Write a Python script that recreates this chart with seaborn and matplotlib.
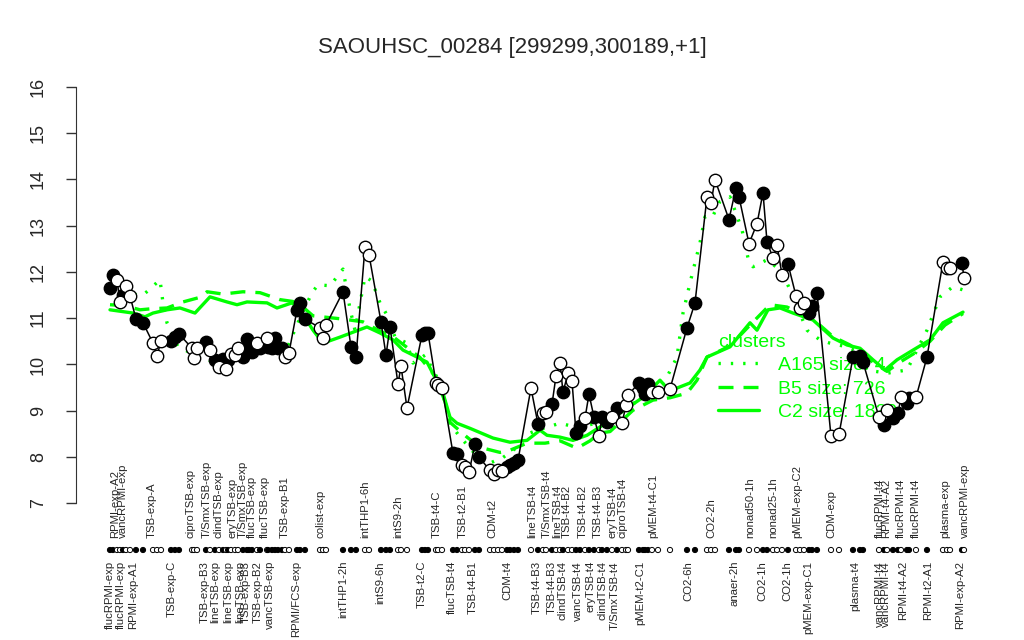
import numpy as np
import pandas as pd
import matplotlib
matplotlib.use("Agg")
import matplotlib.pyplot as plt
import matplotlib.transforms as mtransforms
from matplotlib.lines import Line2D
import seaborn as sns

# sample positions along the x axis and expression values
pos = [10, 13, 17, 20, 23, 26, 30, 36, 43, 53, 57, 61, 71, 75, 79, 92, 94, 97,
       106, 110, 115, 119, 123, 126, 128, 131, 135, 138, 143, 147, 149, 152,
       157, 160, 167, 168, 172, 175, 178, 182, 185, 189, 197, 200, 205, 220,
       223, 226, 243, 251, 256, 265, 269, 281, 286, 290, 298, 301, 307, 322,
       325, 328, 336, 338, 342, 353, 357, 362, 365, 369, 375, 379, 390, 394,
       398, 402, 407, 410, 414, 418, 431, 438, 443, 446, 452, 456, 460, 463,
       468, 472, 476, 480, 485, 489, 494, 499, 502, 507, 512, 517, 522, 526,
       528, 539, 543, 545, 548, 552, 558, 570, 587, 595, 607, 611, 615, 629,
       636, 639, 649, 657, 663, 667, 673, 677, 682, 688, 696, 700, 704, 709,
       712, 717, 731, 739, 753, 760, 763, 779, 784, 787, 793, 798, 801, 807,
       809, 816, 827, 843, 847, 850, 862, 864]
expr = [11.65, 11.94, 11.83, 11.35, 11.50, 11.70, 11.48, 10.98, 10.90, 10.46,
        10.18, 10.51, 10.51, 10.59, 10.66, 10.35, 10.14, 10.35, 10.48, 10.31,
        10.10, 9.94, 10.12, 9.90, 10.10, 10.22, 10.20, 10.35, 10.16, 10.55,
        10.35, 10.27, 10.46, 10.35, 10.57, 10.38, 10.35, 10.57, 10.35, 10.35,
        10.16, 10.25, 11.18, 11.33, 10.98, 10.79, 10.57, 10.85, 11.57, 10.38,
        10.16, 12.54, 12.37, 10.92, 10.20, 10.81, 9.58, 9.96, 9.06, 10.64,
        10.68, 10.68, 9.60, 9.55, 9.49, 8.08, 8.06, 7.82, 7.78, 7.67, 8.28,
        8.00, 7.71, 7.63, 7.71, 7.69, 7.78, 7.82, 7.87, 7.93, 9.49, 8.71, 8.95,
        8.97, 9.14, 9.75, 10.03, 9.40, 9.81, 9.64, 8.52, 8.67, 8.84, 9.36,
        8.86, 8.45, 8.86, 8.75, 8.86, 9.06, 8.73, 9.12, 9.34, 9.60, 9.49, 9.36,
        9.58, 9.40, 9.40, 9.47, 10.79, 11.33, 13.62, 13.49, 13.99, 13.13, 13.82,
        13.62, 12.61, 13.04, 13.71, 12.65, 12.30, 12.58, 11.94, 12.17, 11.48,
        11.22, 11.33, 11.11, 11.26, 11.55, 8.45, 8.49, 10.16, 10.18, 10.05,
        8.86, 8.69, 9.01, 8.84, 8.95, 9.29, 9.16, 9.27, 9.29, 10.16, 12.22,
        12.09, 12.09, 12.19, 11.87]
filled = [1, 1, 0, 0, 1, 0, 0, 1, 1, 0, 0, 0, 1, 1, 1, 0, 0, 0, 1, 0, 1, 0, 1,
          0, 1, 0, 0, 0, 1, 1, 1, 1, 0, 1, 0, 1, 1, 1, 1, 1, 0, 0, 1, 1, 1, 0,
          0, 0, 1, 1, 1, 0, 0, 1, 1, 1, 0, 0, 0, 1, 1, 1, 0, 0, 0, 1, 1, 0, 0,
          0, 1, 1, 0, 0, 0, 0, 1, 1, 1, 1, 0, 1, 0, 0, 1, 0, 0, 1, 0, 0, 1, 1,
          0, 1, 1, 0, 1, 1, 0, 1, 0, 0, 0, 1, 1, 1, 1, 0, 0, 0, 1, 1, 0, 0, 0,
          1, 1, 1, 0, 0, 1, 1, 0, 0, 0, 1, 0, 0, 0, 1, 1, 1, 0, 0, 1, 1, 1, 0,
          1, 0, 1, 1, 0, 1, 1, 0, 1, 0, 0, 0, 1, 0]

# cluster mean profiles
a165_pos = [10, 25, 42, 50, 60, 63, 67, 78, 100, 115, 130, 150, 170, 185, 200,
            212, 218, 230, 237, 243, 250, 255, 265, 272, 280, 288, 295, 307,
            313, 325, 340, 350, 360, 370, 380, 390, 403, 417, 430, 440, 460,
            475, 490, 513, 533, 553, 567, 577, 583, 590, 600, 605, 612, 620,
            630, 642, 648, 653, 667, 680, 687, 707, 720, 730, 747, 760, 767,
            787, 807, 827, 840, 853, 863]
a165 = [11.55, 11.55, 11.48, 11.63, 11.83, 11.33, 10.90, 10.38, 10.16, 10.05,
        10.10, 10.25, 10.30, 10.25, 11.00, 11.55, 11.72, 11.70, 11.89, 12.06,
        11.20, 10.74, 11.90, 11.80, 11.33, 11.03, 10.59, 10.46, 10.03, 10.20,
        9.60, 8.73, 8.43, 8.20, 7.93, 7.87, 7.99, 8.21, 8.52, 8.60, 8.73, 8.65,
        8.70, 8.80, 9.16, 9.29, 9.73, 10.16, 11.11, 11.76, 12.63, 13.19, 13.17,
        13.52, 13.62, 12.91, 12.30, 12.11, 12.26, 12.04, 11.76, 10.74, 10.53,
        10.46, 10.38, 10.25, 9.88, 9.81, 9.88, 10.74, 11.46, 11.68, 11.61]
b5_pos = [10, 25, 40, 50, 67, 83, 100, 107, 123, 143, 160, 180, 193, 205, 213,
          243, 263, 280, 293, 305, 320, 335, 345, 350, 367, 380, 400, 407, 427,
          445, 460, 477, 490, 500, 510, 533, 553, 570, 587, 597, 607, 630, 650,
          670, 687, 700, 713, 733, 750, 773, 787, 800, 815, 830, 845, 863]
b5 = [11.29, 11.27, 11.18, 11.20, 11.22, 11.35, 11.45, 11.57, 11.52, 11.57,
      11.55, 11.40, 11.36, 11.20, 11.05, 10.98, 10.92, 10.72, 10.60, 10.40,
      10.15, 9.75, 9.20, 8.75, 8.43, 8.21, 8.10, 8.12, 8.30, 8.30, 8.35, 8.19,
      8.35, 8.52, 8.55, 9.01, 9.23, 9.28, 9.38, 9.66, 10.16, 10.40, 10.85,
      11.29, 11.24, 11.10, 10.98, 10.60, 10.42, 10.05, 9.85, 10.05, 10.25,
      10.50, 10.85, 11.10]
c2_pos = [10, 33, 45, 53, 67, 80, 95, 110, 127, 137, 147, 167, 177, 192, 200,
          213, 223, 240, 267, 280, 293, 303, 317, 327, 343, 350, 357, 370, 393,
          410, 427, 440, 447, 460, 473, 487, 500, 520, 543, 560, 567, 577, 590,
          600, 607, 630, 650, 657, 668, 680, 693, 713, 733, 747, 760, 773, 785,
          797, 813, 830, 843, 863]
c2 = [11.18, 11.11, 11.03, 11.11, 11.18, 11.22, 11.11, 11.46, 11.35, 11.29,
      11.35, 11.33, 11.22, 11.33, 11.18, 10.74, 10.46, 10.59, 10.81, 10.68,
      10.53, 10.31, 10.16, 10.05, 9.38, 8.86, 8.73, 8.62, 8.41, 8.32, 8.36,
      8.58, 8.47, 8.43, 8.36, 8.47, 8.65, 8.95, 9.29, 9.66, 9.49, 9.49, 9.60,
      9.88, 10.16, 10.38, 10.90, 10.74, 11.18, 11.22, 11.11, 10.96, 10.57,
      10.42, 10.35, 10.10, 9.88, 10.10, 10.31, 10.53, 10.90, 11.13]

top_pos = [15, 23, 52, 90, 107, 118, 132, 143, 152, 165, 185, 220, 265, 298,
           337, 363, 392, 432, 447, 457, 467, 483, 498, 512, 522, 553, 611,
           650, 673, 697, 731, 780, 786, 801, 816, 845, 865]
top_labels = ["RPMI-exp-A2", "vancRPMI-exp", "TSB-exp-A", "ciproTSB-exp",
              "T/SmxTSB-exp", "clindTSB-exp", "eryTSB-exp", "T/SmxTSB-exp",
              "flucTSB-exp", "flucTSB-exp", "TSB-exp-B1", "colist-exp",
              "intTHP1-6h", "intS9-2h", "TSB-t4-C", "TSB-t2-B1", "CDM-t2",
              "lineTSB-t4", "T/SmxTSB-t4", "lineTSB-t4", "TSB-t4-B2",
              "TSB-t4-B2", "TSB-t4-B3", "eryTSB-t4", "ciproTSB-t4",
              "pMEM-t4-C1", "CO2-2h", "nonad50-1h", "nonad25-1h",
              "pMEM-exp-C2", "CDM-exp", "flucRPMI-t4", "RPMI-t4-A2",
              "flucRPMI-t4", "flucRPMI-t4", "plasma-exp", "vancRPMI-exp"]
bottom_pos = [10, 21, 33, 72, 105, 115, 128, 140, 146, 158, 170, 196, 243,
              280, 322, 352, 373, 407, 437, 452, 463, 478, 490, 503, 515,
              540, 588, 635, 662, 687, 708, 755, 780, 786, 803, 828, 860]
bottom_labels = ["flucRPMI-exp", "flucRPMI-exp", "RPMI-exp-A1", "TSB-exp-C",
                 "TSB-exp-B3", "lineTSB-exp", "lineTSB-exp", "lineTSB-exp",
                 "TSB-exp-B3", "TSB-exp-B2", "vancTSB-exp", "RPMI/FCS-exp",
                 "intTHP1-2h", "intS9-6h", "TSB-t2-C", "flucTSB-t4",
                 "TSB-t4-B1", "CDM-t4", "TSB-t4-B3", "TSB-t4-B3",
                 "clindTSB-t4", "vancTSB-t4", "eryTSB-t4", "clindTSB-t4",
                 "T/SmxTSB-t4", "pMEM-t2-C1", "CO2-6h", "anaer-2h", "CO2-1h",
                 "CO2-1h", "pMEM-exp-C1", "plasma-t4", "vancRPMI-t4",
                 "vancRPMI-t4", "RPMI-t4-A2", "RPMI-t2-A1", "RPMI-exp-A2"]

legend_labels = ["A165 size: 4", "B5 size: 726", "C2 size: 1839"]

sns.set_style("white")
plt.rcParams['font.family'] = ['Liberation Sans', 'DejaVu Sans']

df = pd.DataFrame({"pos": pos, "expr": expr, "filled": filled})

fig = plt.figure(figsize=(10.24, 6.4), dpi=100)
ax = fig.add_axes([76 / 1024, 1 - 520 / 640, 923 / 1024, 450 / 640])

green = "#00ff00"
dot_ls = (0, (0.7, 3.0))
dash_ls = (0, (4.5, 3))
sns.lineplot(x=a165_pos, y=a165, color=green, lw=2.4, linestyle=dot_ls,
             ax=ax, zorder=2, estimator=None, sort=False)
sns.lineplot(x=b5_pos, y=b5, color=green, lw=2.4, linestyle=dash_ls,
             ax=ax, zorder=2, estimator=None, sort=False)
sns.lineplot(x=c2_pos, y=c2, color=green, lw=2.4, linestyle="-",
             ax=ax, zorder=2, estimator=None, sort=False)

# black profile of this gene
sns.lineplot(data=df, x="pos", y="expr", color="black", lw=1.1, ax=ax,
             zorder=4, estimator=None, sort=False)
sns.scatterplot(data=df[df.filled == 1], x="pos", y="expr", color="black",
                edgecolor="black", linewidth=1.0, s=80, ax=ax, zorder=5)
sns.scatterplot(data=df[df.filled == 0], x="pos", y="expr", color="white",
                edgecolor="black", linewidth=1.0, s=80, ax=ax, zorder=5)

ax.set_xlim(-24, 899)
ax.set_ylim(6.64, 16.36)
ax.set_xticks([])
ax.set_yticks(range(7, 17))
ax.set_yticklabels([str(v) for v in range(7, 17)], rotation=90, va="center",
                   fontsize=13)
ax.tick_params(axis="y", length=7, width=1, pad=14, left=True, color="#333333")
ax.set_xlabel("")
ax.set_ylabel("")
for side in ["top", "right", "bottom"]:
    ax.spines[side].set_visible(False)
ax.spines["left"].set_bounds(7, 16)
ax.spines["left"].set_color("#333333")

# marker row and condition labels under the plot
trans = mtransforms.blended_transform_factory(ax.transData, fig.transFigure)
fcols = ["black" if f else "white" for f in filled]
ax.scatter(pos, [1 - 550 / 640] * len(pos), s=14, c=fcols, edgecolors="black",
           linewidths=0.7, transform=trans, clip_on=False, zorder=5)
for p, lab in zip(top_pos, top_labels):
    ax.text(p, 1 - 538 / 640, lab, transform=trans, rotation=90, ha="center",
            va="bottom", fontsize=8.2)
for p, lab in zip(bottom_pos, bottom_labels):
    ax.text(p, 1 - 561 / 640, lab, transform=trans, rotation=90, ha="center",
            va="top", fontsize=8.2)

handles = [Line2D([], [], color=green, lw=2.4, linestyle=dot_ls),
           Line2D([], [], color=green, lw=2.4, linestyle=dash_ls),
           Line2D([], [], color=green, lw=2.4, linestyle="-")]
leg = ax.legend(handles, legend_labels, title="clusters", loc="upper left",
                bbox_to_anchor=(712 / 1024, 1 - 328 / 640),
                bbox_transform=fig.transFigure, frameon=False, fontsize=14,
                title_fontsize=14, labelcolor=green, handlelength=2.1,
                handletextpad=1.0, labelspacing=0.3, borderaxespad=0,
                borderpad=0.3, alignment="left")
leg.get_title().set_color(green)
leg.set_zorder(3)

fig.text(0.5, 1 - 47 / 640, "SAOUHSC_00284 [299299,300189,+1]",
         ha="center", va="center", fontsize=16)

fig.savefig("out.png", dpi=100)
